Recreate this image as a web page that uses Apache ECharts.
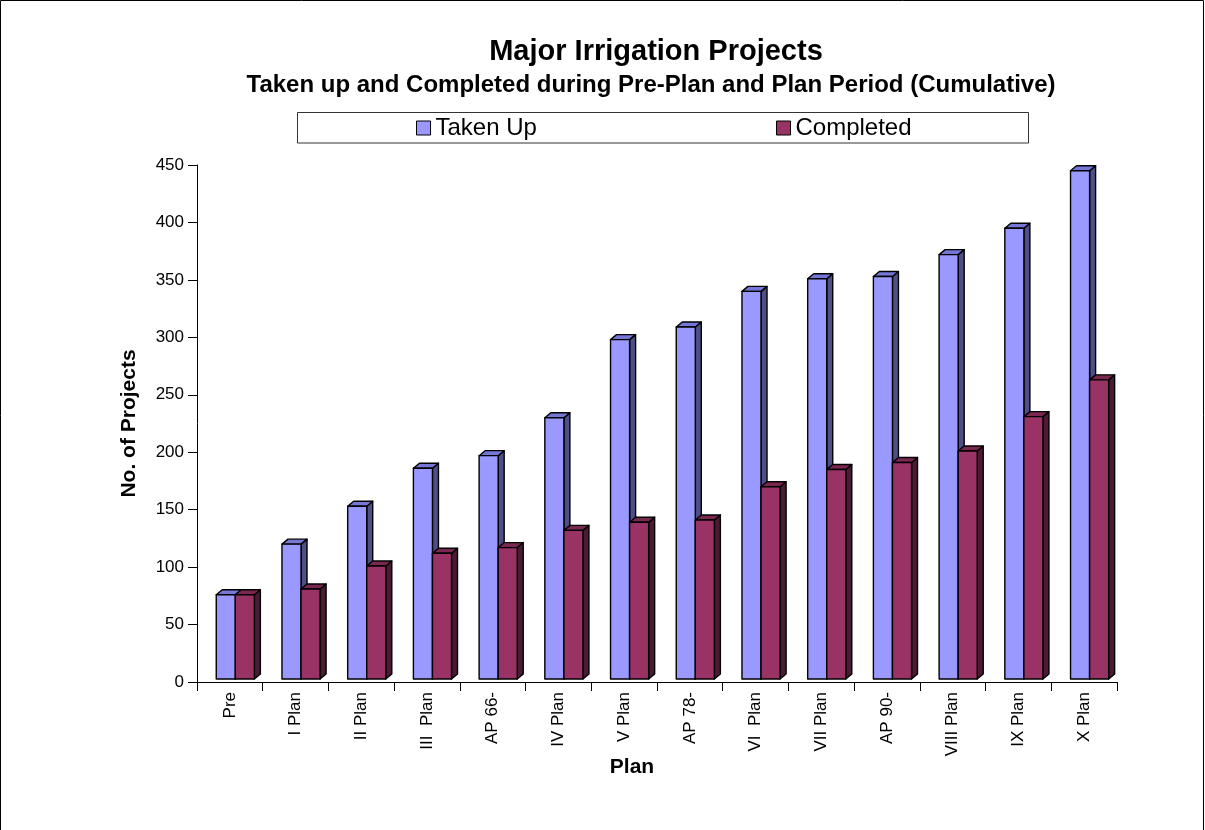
<!DOCTYPE html>
<html>
<head>
<meta charset="utf-8">
<title>Major Irrigation Projects</title>
<script src="https://cdn.jsdelivr.net/npm/echarts@6/dist/echarts.min.js"></script>
<style>
  html, body { margin: 0; padding: 0; background: #fff; }
  #chart { width: 1205px; height: 830px; }
</style>
</head>
<body>
<div id="chart"></div>
<script>
// Plan periods along the x axis
const categories = ['Pre', 'I Plan', 'II Plan', 'III  Plan', 'AP 66-', 'IV Plan', 'V Plan',
  'AP 78-', 'VI  Plan', 'VII Plan', 'AP 90-', 'VIII Plan', 'IX Plan', 'X Plan'];

// Cumulative number of major projects
const takenUp   = [76, 120, 153, 186, 197, 230, 298, 309, 340, 351, 353, 372, 395, 445];
const completed = [76, 81, 101, 112, 117, 132, 139, 141, 170, 185, 191, 201, 231, 263];

const yMin = 0, yMax = 450, yStep = 50;

const FONT = "'Liberation Sans', Arial, Helvetica, sans-serif";

// Draws one extruded column: front face, right side and top, using the axis scales.
function prism(slot, face, side, top) {
  return function (params, api) {
    const cat = api.value(0);
    const val = api.value(1);
    const band = api.size([1, 0])[0];
    const c = api.coord([cat, val]);
    const b = api.coord([cat, 0]);
    const w = band * 0.29;
    const L = c[0] - band * 0.207 + slot * w;
    const R = L + w;
    const T = c[1];
    const B = b[1] - 3;
    const dx = 6, dy = 5;
    const edge = { stroke: '#000', lineWidth: 1.4, lineJoin: 'round' };
    return {
      type: 'group',
      children: [
        { type: 'polygon', shape: { points: [[R, T], [R + dx, T - dy], [R + dx, B - dy], [R, B]] },
          style: Object.assign({ fill: side }, edge) },
        { type: 'polygon', shape: { points: [[L, T], [L + dx, T - dy], [R + dx, T - dy], [R, T]] },
          style: Object.assign({ fill: top }, edge) },
        { type: 'rect', shape: { x: L, y: T, width: w, height: B - T },
          style: Object.assign({ fill: face }, edge) }
      ]
    };
  };
}

const chart = echarts.init(document.getElementById('chart'));

const legendBase = {
  orient: 'horizontal',
  top: 116,
  padding: 0,
  itemWidth: 14,
  itemHeight: 14,
  selectedMode: false,
  itemStyle: { borderColor: '#000', borderWidth: 1 },
  textStyle: { fontSize: 24, color: '#000', fontFamily: FONT }
};

chart.setOption({
  backgroundColor: '#fff',
  animation: false,
  textStyle: { fontFamily: FONT },
  graphic: [
    { type: 'rect', shape: { x: 0.5, y: 0.5, width: 1203, height: 900 },
      style: { fill: null, stroke: '#000', lineWidth: 1 }, silent: true },
    { type: 'rect', shape: { x: 297.5, y: 112.5, width: 731, height: 30.5 },
      style: { fill: '#fff', stroke: '#333', lineWidth: 1 }, silent: true, z: -1 },
    { type: 'text', x: 656, y: 51.5,
      style: { text: 'Major Irrigation Projects', font: 'bold 29px ' + FONT, fill: '#000',
               textAlign: 'center', textVerticalAlign: 'middle' } },
    { type: 'text', x: 651, y: 85.5,
      style: { text: 'Taken up and Completed during Pre-Plan and Plan Period (Cumulative)',
               font: 'bold 24px ' + FONT, fill: '#000',
               textAlign: 'center', textVerticalAlign: 'middle' } },
    // x axis title
    { type: 'text', x: 632, y: 767,
      style: { text: 'Plan', font: 'bold 21px ' + FONT, fill: '#000',
               textAlign: 'center', textVerticalAlign: 'middle' } }
  ],
  legend: [
    Object.assign({}, legendBase, { left: 416, data: [{ name: 'Taken Up', icon: 'rect' }] }),
    Object.assign({}, legendBase, { left: 776, data: [{ name: 'Completed', icon: 'rect' }] })
  ],
  grid: { left: 197, right: 88, top: 165, bottom: 148, containLabel: false },
  xAxis: {
    type: 'category',
    data: categories,
    boundaryGap: true,
    axisLine: { lineStyle: { color: '#000', width: 1 } },
    axisTick: { show: true, length: 9, alignWithLabel: false, lineStyle: { color: '#000' } },
    axisLabel: { interval: 0, rotate: 90, margin: 10, fontSize: 17, color: '#000' },
    splitLine: { show: false }
  },
  yAxis: {
    type: 'value',
    min: yMin,
    max: yMax,
    interval: yStep,
    name: 'No. of Projects',
    nameLocation: 'middle',
    nameGap: 57,
    nameTextStyle: { fontSize: 21, fontWeight: 'bold', color: '#000' },
    axisLine: { show: true, lineStyle: { color: '#000', width: 1 } },
    axisTick: { show: true, length: 9, lineStyle: { color: '#000' } },
    axisLabel: { margin: 13, fontSize: 17, color: '#000' },
    splitLine: { show: false }
  },
  series: [
    {
      name: 'Taken Up',
      type: 'custom',
      itemStyle: { color: '#9999FF' },
      encode: { x: 0, y: 1 },
      data: takenUp.map((v, i) => [i, v]),
      renderItem: prism(0, '#9999FF', '#4E5085', '#7477D6'),
      z: 2
    },
    {
      name: 'Completed',
      type: 'custom',
      itemStyle: { color: '#993366' },
      encode: { x: 0, y: 1 },
      data: completed.map((v, i) => [i, v]),
      renderItem: prism(1, '#993366', '#4A1B33', '#7A2850'),
      z: 3
    }
  ]
});
</script>
</body>
</html>
